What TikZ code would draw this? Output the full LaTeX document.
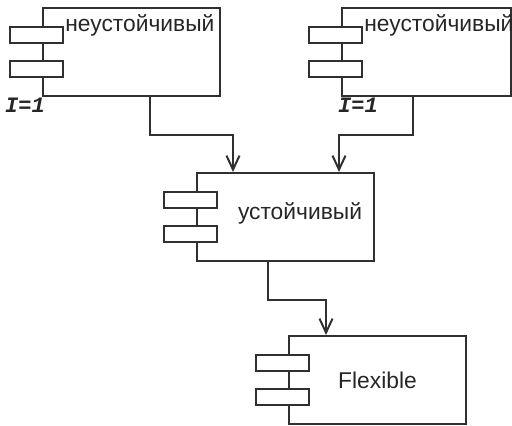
\documentclass[tikz,border=0pt]{standalone}
\usepackage{fontspec}
\setmainfont{Liberation Sans}
\newfontfamily\labelmono{Liberation Mono}
\usepackage{tikz}
\usetikzlibrary{arrows.meta, positioning, calc}
\definecolor{ink}{HTML}{303030}

\begin{document}
\begin{tikzpicture}[
  x=0.5pt, y=-0.5pt,
  comp/.style={draw=ink, line width=1pt, anchor=north west, inner sep=0pt,
    minimum width=88.5pt, minimum height=44pt},
  tab/.style={draw=ink, line width=1pt, fill=white, inner sep=0pt,
    minimum width=26.5pt, minimum height=8pt},
  compname/.style={font=\fontsize{11.4}{13}\selectfont, text=black!85, inner sep=0pt},
  multlabel/.style={font=\labelmono\bfseries\itshape\fontsize{11}{13}\selectfont, text=black!85, inner sep=0pt},
  flow/.style={draw=ink, line width=1pt, -{Straight Barb[length=7pt, width=6.5pt]}}
]
  \useasboundingbox (0,0) rectangle (512,426);

  % Components
  \node[comp] (left)  at (42, 7)   {};
  \node[comp, minimum width=84.5pt] (right) at (341, 7) {};
  \node[comp] (stable) at (196, 172) {};
  \node[comp] (flex)  at (288, 335) {};

  % Ports
  \foreach \c in {left, right, stable, flex} {
    \node[tab] at ($(\c.north west)+(-6,28)$) {};
    \node[tab] at ($(\c.north west)+(-6,62)$) {};
  }

  % Labels
  \node[compname, anchor=west] (leftname)  at (65, 25)  {неустойчивый};
  \node[compname, anchor=west] (rightname) at (364, 25) {неустойчивый};
  \node[compname] (stablename) at (300, 213) {устойчивый};
  \node[compname] (flexname) at (flex.center) {Flexible};
  \node[multlabel] (leftmult)  at (25, 105)  {I=1};
  \node[multlabel] (rightmult) at (358, 105) {I=1};

  % Dependencies
  \draw[flow] ($(left.south west)+(108,0)$) -- ++(0,38) -| ($(stable.north west)+(37,0)$);
  \draw[flow] ($(right.south west)+(72,0)$) -- ++(0,38) -| ($(stable.north west)+(143,0)$);
  \draw[flow] ($(stable.south west)+(72,0)$) -- ++(0,38) -| ($(flex.north west)+(38,0)$);
\end{tikzpicture}
\end{document}
